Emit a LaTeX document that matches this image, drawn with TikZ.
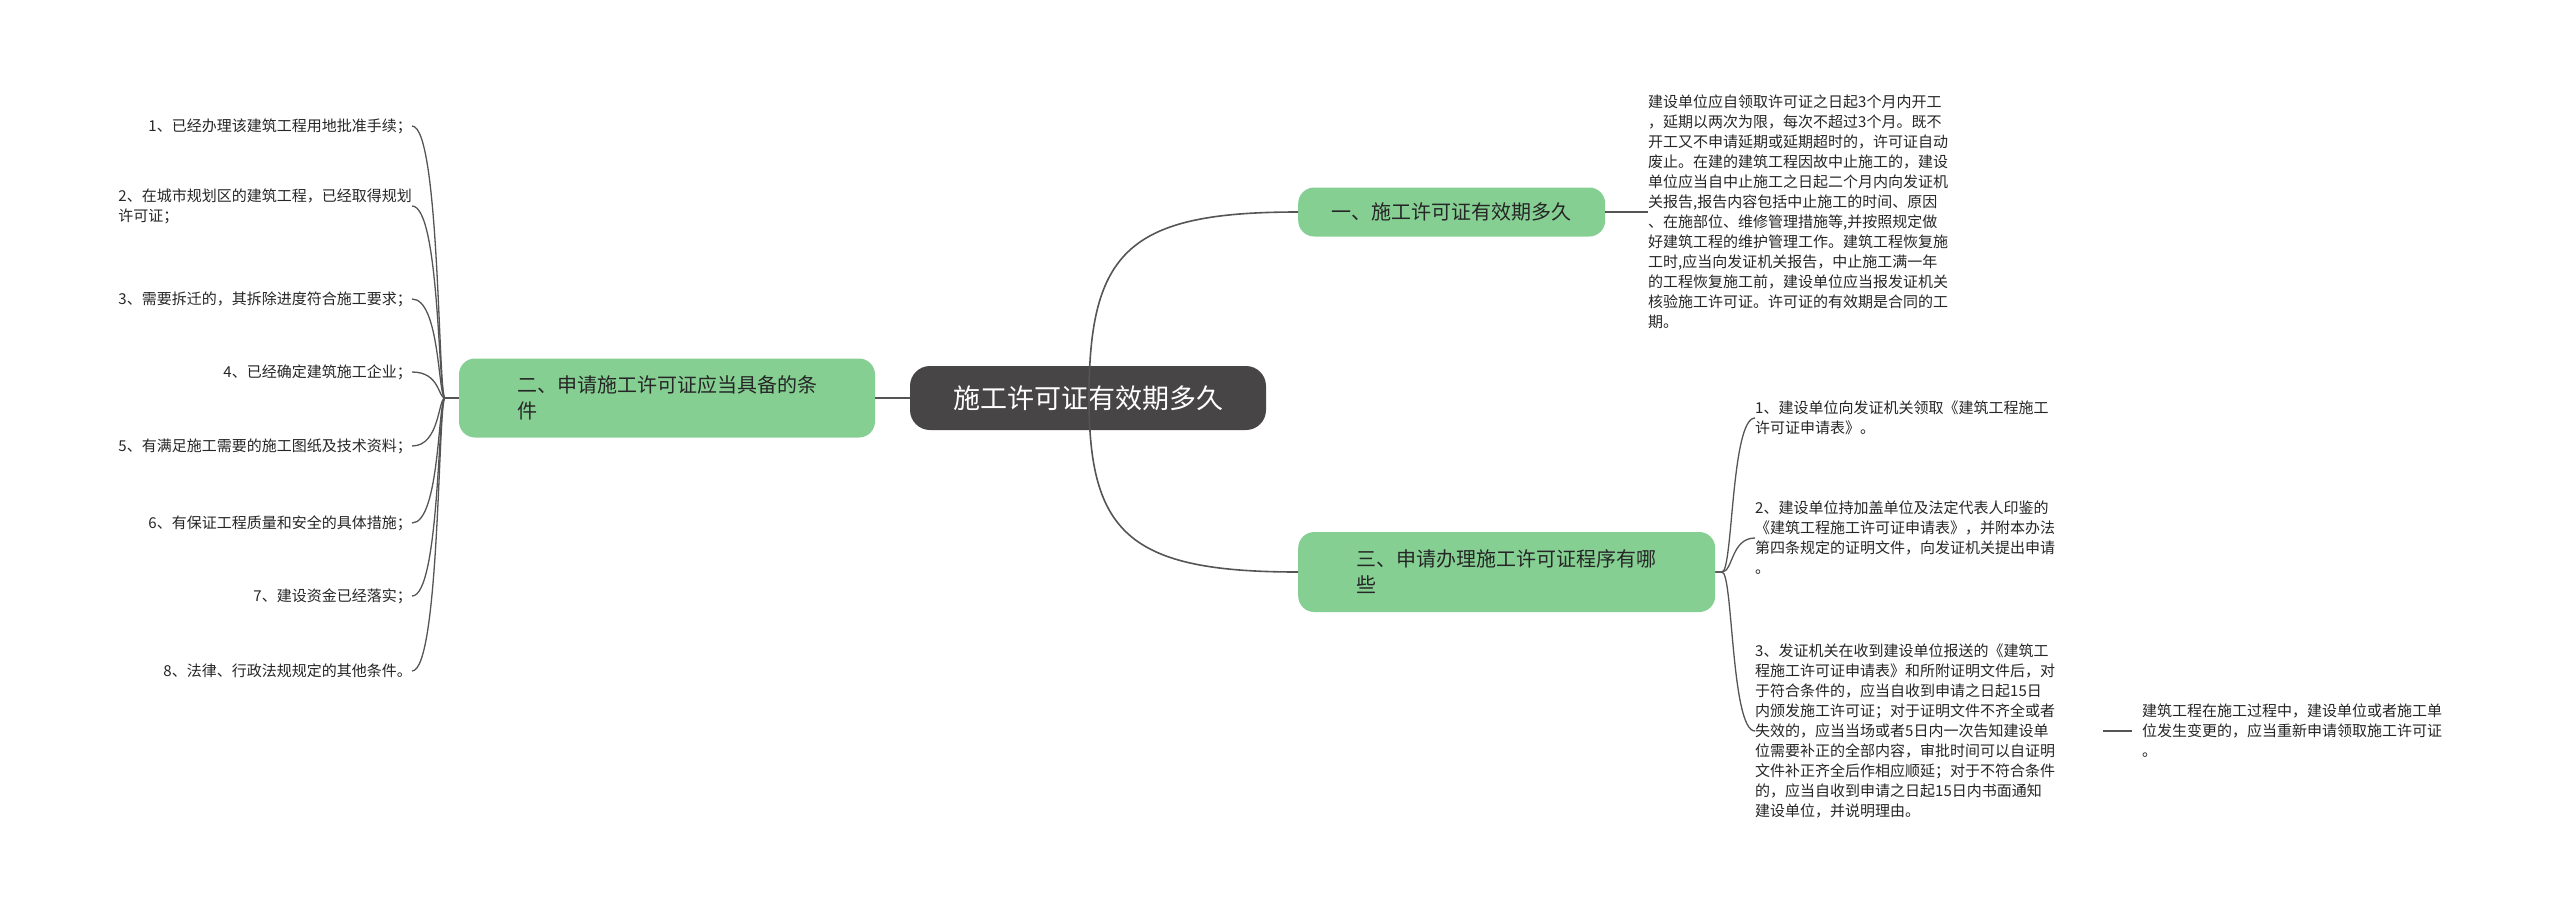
\documentclass[tikz,border=0pt]{standalone}
\usepackage{fontspec}
\setmainfont{Noto Sans CJK SC}
\definecolor{gr}{HTML}{86CF93}
\definecolor{dk}{HTML}{474545}
\definecolor{ln}{HTML}{555555}
\begin{document}
\begin{tikzpicture}[x=1pt,y=-1pt,
  branch/.style={fill=gr,rounded corners=16pt,text=black!85,font=\fontsize{20}{26}\selectfont,inner xsep=14pt,align=left,anchor=west},
  leaf/.style={font=\fontsize{15}{20}\selectfont,text=black!85,inner sep=0pt},
  con/.style={draw=ln,line width=1.6pt}]
\useasboundingbox (0,0) rectangle (2560,908);
\fill[white] (0,0) rectangle (2560,908);
\node[fill=dk,rounded corners=20pt,text=white,font=\fontsize{27}{32}\selectfont,minimum width=356pt,minimum height=64pt] (c) at (1088,398) {施工许可证有效期多久};
\node[branch,minimum width=307pt,minimum height=49pt] (b1) at (1298,212) {一、施工许可证有效期多久};
\node[branch,minimum width=416pt,minimum height=79pt,anchor=center] (b2) at (667,398) {二、申请施工许可证应当具备的条\\件};
\node[branch,minimum width=417pt,minimum height=80pt] (b3) at (1298,572) {三、申请办理施工许可证程序有哪\\些};
\node[leaf,anchor=west,align=left] (t1) at (1648,212) {建设单位应自领取许可证之日起3个月内开工\\，延期以两次为限，每次不超过3个月。既不\\开工又不申请延期或延期超时的，许可证自动\\废止。在建的建筑工程因故中止施工的，建设\\单位应当自中止施工之日起二个月内向发证机\\关报告,报告内容包括中止施工的时间、原因\\、在施部位、维修管理措施等,并按照规定做\\好建筑工程的维护管理工作。建筑工程恢复施\\工时,应当向发证机关报告，中止施工满一年\\的工程恢复施工前，建设单位应当报发证机关\\核验施工许可证。许可证的有效期是合同的工\\期。};
\draw[con] (1089,398) .. controls (1089,250) and (1130,212) .. (b1.west);
\draw[con] (1089,398) .. controls (1089,534) and (1130,572) .. (b3.west);
\draw[con] (c.west) -- (b2.east);
\draw[con] (b1.east) -- (t1.west);
% left items
\foreach \n/\y/\t in {l1/126/{1、已经办理该建筑工程用地批准手续；},
  l2/206/{2、在城市规划区的建筑工程，已经取得规划\\许可证；},
  l3/299/{3、需要拆迁的，其拆除进度符合施工要求；},
  l4/372/{4、已经确定建筑施工企业；},
  l5/446/{5、有满足施工需要的施工图纸及技术资料；},
  l6/523/{6、有保证工程质量和安全的具体措施；},
  l7/596/{7、建设资金已经落实；},
  l8/671/{8、法律、行政法规规定的其他条件。}}
{
  \node[leaf,anchor=east,align=left] (\n) at (412,\y) {\t};
  \draw[con,line width=1.3pt] (b2.west) -- (445,398) .. controls (438,398) and (440,\y) .. (\n.east);
}
% right items
\node[leaf,anchor=west,align=left] (r1) at (1755,418) {1、建设单位向发证机关领取《建筑工程施工\\许可证申请表》。};
\node[leaf,anchor=west,align=left] (r2) at (1755,538) {2、建设单位持加盖单位及法定代表人印鉴的\\《建筑工程施工许可证申请表》，并附本办法\\第四条规定的证明文件，向发证机关提出申请\\。};
\node[leaf,anchor=west,align=left] (r3) at (1755,731) {3、发证机关在收到建设单位报送的《建筑工\\程施工许可证申请表》和所附证明文件后，对\\于符合条件的，应当自收到申请之日起15日\\内颁发施工许可证；对于证明文件不齐全或者\\失效的，应当当场或者5日内一次告知建设单\\位需要补正的全部内容，审批时间可以自证明\\文件补正齐全后作相应顺延；对于不符合条件\\的，应当自收到申请之日起15日内书面通知\\建设单位，并说明理由。};
\foreach \n/\y in {r1/418,r2/538,r3/731}{
  \draw[con,line width=1.3pt] (b3.east) -- (1722,572) .. controls (1733,572) and (1731,\y) .. (\n.west);
}
\node[leaf,anchor=west,align=left,inner xsep=10pt] (r4) at (2132,731) {建筑工程在施工过程中，建设单位或者施工单\\位发生变更的，应当重新申请领取施工许可证\\。};
\draw[con,line width=1.3pt] (r4.west) -- ++(-29,0) coordinate (r3e);
\end{tikzpicture}
\end{document}
